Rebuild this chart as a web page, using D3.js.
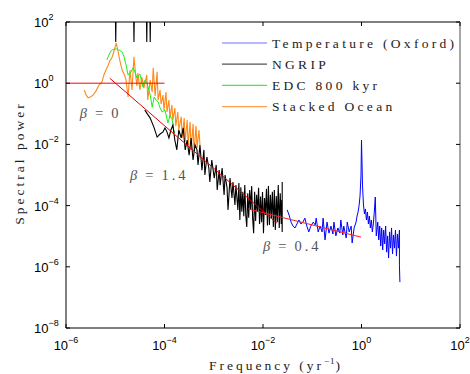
<!DOCTYPE html>
<html lang="en">
<head>
<meta charset="utf-8">
<script src="https://cdn.jsdelivr.net/npm/d3@7"></script>
<style>
  body { margin: 0; background: #fff; }
  .tick-label { font-family: "Liberation Sans", Arial, sans-serif; font-size: 13px; fill: #000; }
  .serif { font-family: "Liberation Serif", "DejaVu Serif", serif; }
</style>
</head>
<body>
<script>
// values, each point is [log10 frequency (1/yr), log10 spectral power]
var stackedOcean = [
  [-5.63,-0.22],[-5.59,-0.39],[-5.55,-0.48],[-5.51,-0.45],[-5.45,-0.39],[-5.39,-0.25],
  [-5.33,-0.06],[-5.27,0.04],[-5.23,0.27],[-5.19,0.43],[-5.15,0.56],[-5.11,0.73],
  [-5.07,0.82],[-5.03,1.02],[-4.98,1.31],[-4.94,1.02],[-4.90,0.69],[-4.86,0.43],
  [-4.82,0.30],[-4.78,0.10],[-4.74,-0.45],[-4.70,0.43],[-4.66,-0.22],[-4.62,0.86],
  [-4.58,0.17],[-4.56,-0.09],[-4.54,0.33],[-4.50,-0.22],[-4.46,0.20],[-4.42,-0.16],
  [-4.40,-0.03],[-4.36,0.27],[-4.34,-0.55],[-4.29,0.10],[-4.25,-0.29],[-4.23,0.50],
  [-4.19,-0.42],[-4.15,0.37],[-4.13,-0.55],[-4.09,-0.22],[-4.07,-0.68],[-4.03,-0.39],
  [-4.01,-0.88],[-3.97,-0.29],[-3.95,-0.94],[-3.91,-0.55],[-3.89,-1.14],[-3.85,-0.71],
  [-3.83,-1.20],[-3.79,-0.81],[-3.77,-1.40],[-3.73,-0.94],[-3.71,-1.53],[-3.66,-1.10],
  [-3.64,-1.79],[-3.60,-1.14],[-3.58,-1.92],[-3.54,-1.20],[-3.52,-2.02],[-3.48,-1.27],
  [-3.46,-2.18],[-3.42,-1.33],[-3.40,-2.25],[-3.36,-1.40],[-3.34,-2.12],[-3.30,-1.53],
  [-3.28,-2.02]
];

var edc800 = [
  [-5.17,0.76],[-5.13,0.92],[-5.09,1.05],[-5.05,1.10],[-4.98,1.12],[-4.92,1.08],
  [-4.86,1.02],[-4.82,0.86],[-4.78,0.59],[-4.74,0.27],[-4.68,0.37],[-4.64,0.50],
  [-4.60,0.37],[-4.56,0.17],[-4.50,0.30],[-4.44,-0.12],[-4.40,0.10],[-4.36,0.04],
  [-4.29,-0.39],[-4.25,-0.78],[-4.21,-0.45],[-4.17,-0.55],[-4.13,-0.61],[-4.09,-0.81],
  [-4.05,-0.94],[-3.99,-0.88],[-3.93,-1.30],[-3.89,-1.07],[-3.85,-1.14],[-3.81,-1.53],
  [-3.79,-1.63]
];

// NGRIP: the lowest frequencies run off the top of the axes (null = gap)
var ngrip = [
  [-5.00,2.6],[-4.99,1.35],[-4.98,2.6],[-4.63,2.6],[-4.62,1.35],[-4.61,2.6],
  [-4.37,2.6],[-4.36,1.35],[-4.35,2.6],[-4.30,2.6],[-4.29,1.35],[-4.28,2.6],[-4.28,null],
  [-4.40,-0.88],[-4.29,-1.14],[-4.21,-1.46],[-4.15,-1.76],[-4.09,-1.66],[-4.03,-1.59],
  [-3.99,-1.46],[-3.95,-1.59],[-3.91,-1.79],[-3.87,-1.53],[-3.83,-1.37],[-3.79,-1.86],
  [-3.75,-2.18],[-3.71,-1.53],[-3.66,-1.79],[-3.62,-1.46],[-3.58,-2.18],[-3.54,-1.86],
  [-3.50,-2.35],[-3.46,-1.79],[-3.42,-2.51],[-3.38,-2.02],[-3.34,-2.18],[-3.32,-2.67],
  [-3.28,-2.02],[-3.24,-2.84],[-3.20,-2.18],[-3.18,-3.00],[-3.14,-2.41],[-3.10,-2.77],
  [-3.08,-3.23],[-3.04,-2.51],[-2.99,-3.10],[-2.95,-2.67],[-2.93,-3.49],[-2.89,-2.84],
  [-2.87,-3.33],[-2.83,-2.77],[-2.79,-3.65],[-2.77,-3.00],[-2.73,-3.42],[-2.71,-4.14],
  [-2.67,-3.10],[-2.63,-3.75],[-2.61,-3.23],[-2.57,-3.98],[-2.55,-3.33],[-2.51,-4.14],
  [-2.49,-3.26],[-2.47,-4.47],[-2.45,-3.40],[-2.43,-4.20],[-2.41,-3.55],[-2.39,-4.35],
  [-2.37,-3.33],[-2.35,-4.31],[-2.33,-4.70],[-2.31,-3.60],[-2.29,-4.40],[-2.27,-3.49],
  [-2.25,-4.14],[-2.23,-3.36],[-2.21,-4.41],[-2.19,-4.90],[-2.17,-3.55],[-2.15,-4.50],
  [-2.13,-3.65],[-2.11,-4.21],[-2.09,-3.42],[-2.07,-4.60],[-2.05,-3.70],[-2.03,-4.54],
  [-2.01,-3.56],[-1.99,-4.90],[-1.97,-3.75],[-1.95,-4.31],[-1.93,-3.45],[-1.91,-4.65],
  [-1.89,-3.36],[-1.87,-4.63],[-1.85,-3.65],[-1.83,-4.41],[-1.81,-3.55],[-1.79,-4.70],
  [-1.77,-3.49],[-1.75,-4.80],[-1.73,-3.69],[-1.71,-4.54],[-1.69,-3.33],[-1.67,-4.73],
  [-1.65,-3.60],[-1.63,-4.60],[-1.62,-3.82],[-1.61,-4.86],[-1.61,-3.23]
];

var tempOxford = [
  [-1.51,-4.14],[-1.47,-4.31],[-1.43,-4.54],[-1.39,-4.67],[-1.35,-4.73],[-1.31,-4.60],
  [-1.27,-4.47],[-1.23,-4.60],[-1.19,-4.54],[-1.15,-4.41],[-1.11,-4.67],[-1.07,-4.86],
  [-1.03,-4.67],[-0.98,-4.54],[-0.94,-4.63],[-0.92,-4.41],[-0.88,-4.86],[-0.84,-4.67],
  [-0.80,-4.86],[-0.78,-4.41],[-0.74,-5.12],[-0.70,-4.54],[-0.66,-4.90],[-0.62,-4.67],
  [-0.58,-4.93],[-0.56,-4.54],[-0.52,-4.99],[-0.48,-4.73],[-0.44,-4.90],[-0.42,-4.47],
  [-0.38,-4.96],[-0.36,-4.67],[-0.31,-5.06],[-0.29,-4.54],[-0.25,-4.86],[-0.21,-4.67],
  [-0.19,-5.22],[-0.15,-4.73],[-0.11,-4.54],[-0.09,-4.34],[-0.07,-4.21],[-0.05,-4.01],
  [-0.03,-3.69],[-0.01,-3.00],[0.00,-1.86],[0.02,-3.33],[0.04,-3.98],[0.06,-4.27],
  [0.08,-4.11],[0.10,-4.47],[0.12,-4.21],[0.14,-4.60],[0.16,-4.34],[0.18,-4.73],
  [0.20,-4.47],[0.22,-4.86],[0.24,-4.60],[0.26,-4.21],[0.28,-3.72],[0.30,-4.99],
  [0.33,-4.54],[0.35,-5.12],[0.37,-4.67],[0.39,-5.32],[0.41,-4.73],[0.43,-5.45],
  [0.45,-4.80],[0.47,-5.25],[0.49,-4.67],[0.51,-5.52],[0.53,-4.99],[0.55,-5.71],
  [0.57,-4.86],[0.59,-5.39],[0.61,-4.73],[0.63,-5.58],[0.65,-4.96],[0.67,-5.39],
  [0.69,-4.80],[0.71,-5.65],[0.73,-4.93],[0.75,-5.39],[0.77,-4.80],[0.77,-5.97],
  [0.78,-6.50]
];

// power-law fits
var fitBeta0 = [[-6, 0], [-4, 0]];
var fitBeta14 = [[-5.11, 0.16], [-1.72, -4.57]];
var fitBeta04 = [[-2.30, -4.11], [-0.01, -5.03]];
var betaValues = ["0", "1.4", "0.4"];

var seriesNames = ["Temperature (Oxford)", "NGRIP", "EDC 800 kyr", "Stacked Ocean"];
var xTickExp = [-6, -4, -2, 0, 2];
var yTickExp = [2, 0, -2, -4, -6, -8];

var width = 470;
var height = 374;
var plotLeft = 66, plotRight = 460, plotTop = 22, plotBottom = 328;

var x = d3.scaleLog().domain([1e-6, 1e2]).range([plotLeft, plotRight]);
var y = d3.scaleLog().domain([1e-8, 1e2]).range([plotBottom, plotTop]);

var svg = d3.select("body")
  .append("svg")
  .attr("width", width)
  .attr("height", height);

svg.append("defs").append("clipPath")
  .attr("id", "plot-clip")
  .append("rect")
  .attr("x", plotLeft)
  .attr("y", plotTop)
  .attr("width", plotRight - plotLeft)
  .attr("height", plotBottom - plotTop);

var line = d3.line()
  .defined(function(d) { return d[1] != null; })
  .x(function(d) { return x(Math.pow(10, d[0])); })
  .y(function(d) { return y(Math.pow(10, d[1])); });

var plot = svg.append("g").attr("clip-path", "url(#plot-clip)");

var drawOrder = [
  { data: stackedOcean, color: "#ff8a1c", w: 1.1 },
  { data: edc800, color: "#18f018", w: 1 },
  { data: ngrip, color: "#000", w: 1.1 },
  { data: tempOxford, color: "#0000ff", w: 1 },
  { data: fitBeta0, color: "#ff0000", w: 1 },
  { data: fitBeta14, color: "#e00000", w: 1 },
  { data: fitBeta04, color: "#ff2020", w: 1 }
];

drawOrder.forEach(function(s) {
  plot.append("path")
    .datum(s.data)
    .attr("d", line)
    .attr("fill", "none")
    .attr("stroke", s.color)
    .attr("stroke-width", s.w);
});

// beta annotations
var betaPos = [[-5.72, -1.14], [-4.70, -3.16], [-2.00, -5.48]];
betaValues.forEach(function(b, i) {
  var t = svg.append("text")
    .attr("class", "serif")
    .attr("x", x(Math.pow(10, betaPos[i][0])))
    .attr("y", y(Math.pow(10, betaPos[i][1])))
    .attr("fill", "#555")
    .attr("font-size", 14.5);
  t.append("tspan").attr("font-style", "italic").text("β");
  t.append("tspan").attr("dx", 8).text("=");
  t.append("tspan").attr("dx", 8).attr("letter-spacing", 3).text(b);
});

// axes box
var axisG = svg.append("g");
axisG.append("line").attr("x1", plotLeft).attr("x2", plotRight).attr("y1", plotBottom).attr("y2", plotBottom).attr("stroke", "#000");
axisG.append("line").attr("x1", plotLeft).attr("x2", plotRight).attr("y1", plotTop).attr("y2", plotTop).attr("stroke", "#000");
axisG.append("line").attr("x1", plotLeft).attr("x2", plotLeft).attr("y1", plotTop).attr("y2", plotBottom).attr("stroke", "#000");
axisG.append("line").attr("x1", plotRight).attr("x2", plotRight).attr("y1", plotTop).attr("y2", plotBottom).attr("stroke", "#888").attr("stroke-width", 1.5);

xTickExp.forEach(function(e) {
  var px = x(Math.pow(10, e));
  axisG.append("line").attr("x1", px).attr("x2", px).attr("y1", plotBottom).attr("y2", plotBottom - 4).attr("stroke", "#000");
  axisG.append("line").attr("x1", px).attr("x2", px).attr("y1", plotTop).attr("y2", plotTop + 4).attr("stroke", "#000");
  var t = svg.append("text")
    .attr("class", "tick-label")
    .attr("x", px)
    .attr("y", 350)
    .attr("text-anchor", "middle");
  t.append("tspan").text("10");
  t.append("tspan").attr("font-size", 9).attr("dy", -7).text(e < 0 ? "\u2212" + (-e) : e);
});

yTickExp.forEach(function(e) {
  var py = y(Math.pow(10, e));
  axisG.append("line").attr("x1", plotLeft).attr("x2", plotLeft + 4).attr("y1", py).attr("y2", py).attr("stroke", "#000");
  axisG.append("line").attr("x1", plotRight).attr("x2", plotRight - 4).attr("y1", py).attr("y2", py).attr("stroke", "#000");
  var t = svg.append("text")
    .attr("class", "tick-label")
    .attr("x", 34)
    .attr("y", py + 5);
  t.append("tspan").text("10");
  t.append("tspan").attr("font-size", 9).attr("dy", -7).text(e < 0 ? "\u2212" + (-e) : e);
});

// legend
var legendColors = ["#7070ff", "#555", "#40f040", "#ffa050"];
seriesNames.forEach(function(name, i) {
  var ly = 43 + i * 21.2;
  svg.append("line")
    .attr("x1", 222).attr("x2", 267)
    .attr("y1", ly).attr("y2", ly)
    .attr("stroke", legendColors[i])
    .attr("stroke-width", 1.2);
  svg.append("text")
    .attr("class", "serif")
    .attr("x", 272)
    .attr("y", ly + 4.5)
    .attr("font-size", 13.5)
    .attr("letter-spacing", 3.3)
    .attr("fill", "#222")
    .text(name);
});

// axis titles
var xl = svg.append("text")
  .attr("class", "serif")
  .attr("x", 276)
  .attr("y", 370)
  .attr("text-anchor", "middle")
  .attr("font-size", 13.5)
  .attr("letter-spacing", 3)
  .attr("fill", "#222");
xl.append("tspan").text("Frequency (yr");
xl.append("tspan").attr("font-size", 9).attr("dy", -6).attr("letter-spacing", 1).text("\u22121");
xl.append("tspan").attr("dy", 6).text(")");

svg.append("text")
  .attr("class", "serif")
  .attr("transform", "translate(24,163) rotate(-90)")
  .attr("text-anchor", "middle")
  .attr("font-size", 13.5)
  .attr("letter-spacing", 3)
  .attr("fill", "#222")
  .text("Spectral power");
</script>
</body>
</html>
